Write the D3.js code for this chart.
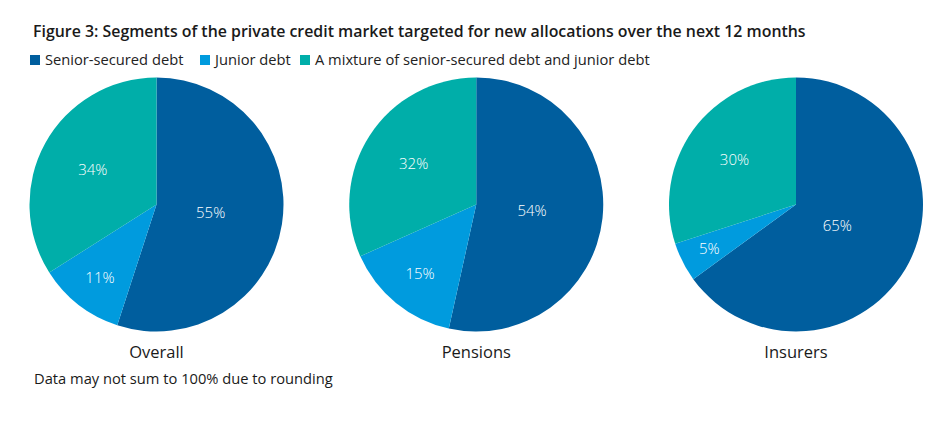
<!DOCTYPE html>
<html>
<head>
<meta charset="utf-8">
<script src="https://cdn.jsdelivr.net/npm/d3@7"></script>
<style>
  body { margin: 0; background: #fff; }
  svg { font-family: 'Open Sans', sans-serif; }
</style>
</head>
<body>
<div id="chart"></div>
<script>
// chart data
const segments = ['Senior-secured debt', 'Junior debt', 'A mixture of senior-secured debt and junior debt'];
const groups = ['Overall', 'Pensions', 'Insurers'];
const overallValues = [55, 11, 34];
const pensionsValues = [54, 15, 32];
const insurersValues = [65, 5, 30];
const colors = ['#005e9e', '#009bde', '#00aea9'];

const width = 946, height = 421;
const radius = 127;

const svg = d3.select('#chart')
    .append('svg')
    .attr('width', width)
    .attr('height', height);

// title
svg.append('text')
    .attr('x', 33)
    .attr('y', 37)
    .attr('font-size', '15.9px')
    .attr('font-weight', 600)
    .attr('fill', '#1a1a1a')
    .text('Figure 3: Segments of the private credit market targeted for new allocations over the next 12 months');

// legend
const legendX = [30, 200, 300];
const legend = svg.selectAll('.legend-item')
    .data(segments)
    .enter()
    .append('g')
    .attr('class', 'legend-item')
    .attr('transform', (d, i) => `translate(${legendX[i]}, 55)`);

legend.append('rect')
    .attr('width', 10)
    .attr('height', 10)
    .attr('fill', (d, i) => colors[i]);

legend.append('text')
    .attr('x', 15)
    .attr('y', 10)
    .attr('font-size', '14.7px')
    .attr('fill', '#222')
    .text(d => d);

// pies
const xScale = d3.scalePoint()
    .domain(groups)
    .range([156.5, 796])
    .padding(0);

const pie = d3.pie().sort(null).value(d => d);
const arc = d3.arc().innerRadius(0).outerRadius(radius);

const allValues = [overallValues, pensionsValues, insurersValues];

groups.forEach((name, gi) => {
    const vals = allValues[gi];
    const total = d3.sum(vals);
    const g = svg.append('g')
        .attr('transform', `translate(${xScale(name)}, 204.5)`);

    const slices = pie(vals);
    g.selectAll('path')
        .data(slices)
        .enter()
        .append('path')
        .attr('d', arc)
        .attr('fill', (d, i) => colors[i]);

    // smaller slices push their label further out
    g.selectAll('.lbl')
        .data(slices)
        .enter()
        .append('text')
        .attr('class', 'lbl')
        .attr('transform', d => {
            const share = d.data / total;
            const r = radius * (0.8 - 0.67 * share);
            const a = (d.startAngle + d.endAngle) / 2;
            return `translate(${Math.sin(a) * r}, ${-Math.cos(a) * r})`;
        })
        .attr('text-anchor', 'middle')
        .attr('dy', '0.35em')
        .attr('font-size', '15px')
        .attr('font-weight', 300)
        .attr('fill', '#fff')
        .text(d => d.data + '%');

    svg.append('text')
        .attr('x', xScale(name))
        .attr('y', 358)
        .attr('text-anchor', 'middle')
        .attr('font-size', '16.5px')
        .attr('fill', '#1a1a1a')
        .text(name);
});

// footnote
svg.append('text')
    .attr('x', 34)
    .attr('y', 384)
    .attr('font-size', '14.7px')
    .attr('fill', '#1a1a1a')
    .text('Data may not sum to 100% due to rounding');
</script>
</body>
</html>
